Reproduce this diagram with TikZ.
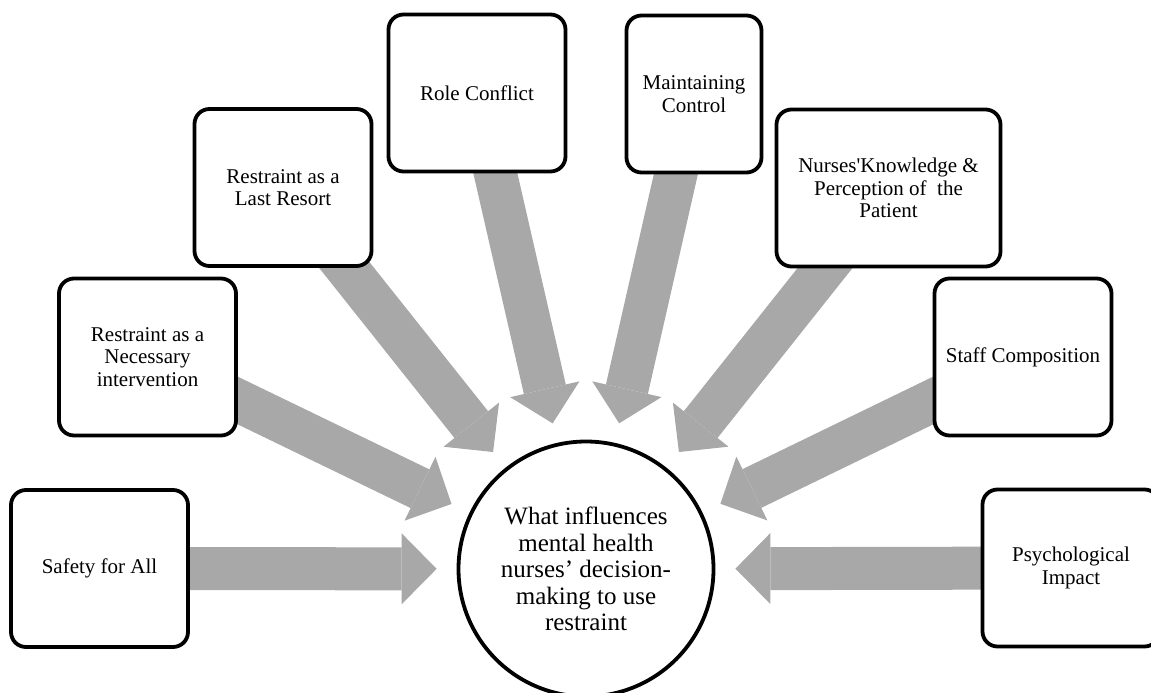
\documentclass[tikz,border=0pt]{standalone}
\usepackage{fontspec}
\setmainfont{Liberation Serif}
\usetikzlibrary{arrows.meta,backgrounds}
\definecolor{arrowgray}{RGB}{168,168,168}

\begin{document}
\begin{tikzpicture}[x=1pt,y=-1pt,
    theme/.style={draw,line width=3.8pt,rounded corners=15pt,fill=white,align=center,
       minimum width=177pt,minimum height=157pt,inner sep=0pt,
       font=\fontsize{21}{22.5}\selectfont},
    hub/.style={circle,draw,line width=3.8pt,fill=white,minimum size=255pt,inner sep=0pt,
       align=center,font=\fontsize{25}{26.5}\selectfont},
    bigarrow/.style={draw=arrowgray,line width=43pt,shorten <=-25pt,shorten >=20pt,
       -{Triangle[length=35pt,width=71pt,line width=0pt]}}]
          \useasboundingbox (0,0) rectangle (1151,693);

          \node[hub] (Hub) at (586,569) {What influences\\mental health\\nurses’ decision-\\making to use\\restraint};

          \node[theme] (Safe) at (99.5,568.5) {Safety for All};
          \node[theme] (Nec) at (147.5,357) {Restraint as a\\Necessary\\intervention};
          \node[theme] (Last) at (283,187.5) {Restraint as a\\Last Resort};
          \node[theme] (Role) at (477,93) {Role Conflict};
          \node[theme,minimum width=135pt] (Ctrl) at (694,94) {Maintaining\\Control};
          \node[theme,minimum width=224pt] (Know) at (888.5,188) {Nurses\textquotesingle Knowledge \&\\Perception of\ \ the\\Patient};
          \node[theme] (Staff) at (1023,357) {Staff Composition};
          \node[theme] (Psy) at (1071,568) {Psychological\\Impact};

   \begin{scope}[on background layer]
    \foreach \n in {Safe,Nec,Last,Role,Ctrl,Know,Staff,Psy}
             {
               \draw[bigarrow] (\n) -- (Hub);
             }
   \end{scope}
        \end{tikzpicture}
\end{document}
